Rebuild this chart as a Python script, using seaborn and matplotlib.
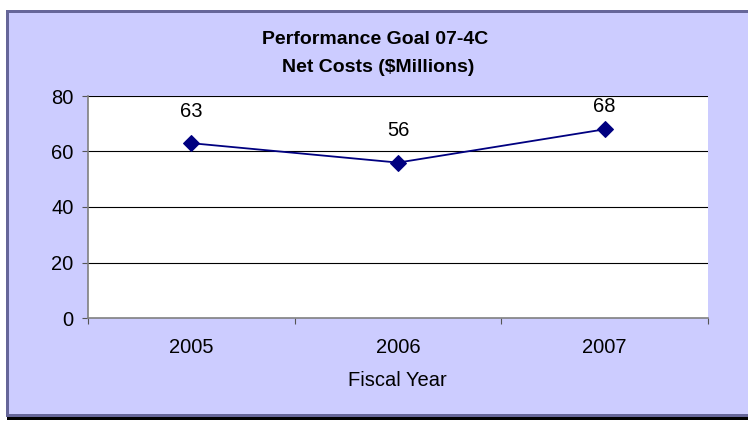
import matplotlib
matplotlib.use("Agg")
import matplotlib.pyplot as plt
from matplotlib.patches import Rectangle
import seaborn as sns
import pandas as pd

years = ["2005", "2006", "2007"]
net_costs = [63, 56, 68]
y_ticks = [0, 20, 40, 60, 80]

sns.set_theme(style="white")
plt.rcParams["font.family"] = ["Liberation Sans", "DejaVu Sans"]
plt.rcParams["text.color"] = "black"
plt.rcParams["xtick.color"] = "black"
plt.rcParams["ytick.color"] = "black"

FS = 14.5
W, H = 748, 422
fig = plt.figure(figsize=(W / 100, H / 100), dpi=100)
fig.patch.set_facecolor("white")

# Chart area panel with border and shadow
fig.patches.append(Rectangle((7 / W, 1 - 420 / H), 1.0, 410 / H, transform=fig.transFigure,
                             facecolor="black", edgecolor="none", zorder=-3))
fig.patches.append(Rectangle((6 / W, 1 - 417 / H), 1.0, 407 / H, transform=fig.transFigure,
                             facecolor="#666699", edgecolor="none", zorder=-2))
fig.patches.append(Rectangle((9 / W, 1 - 414 / H), 1.0, 401 / H, transform=fig.transFigure,
                             facecolor="#CCCCFF", edgecolor="none", zorder=-1))

left, right, top, bottom = 88, 708, 96, 318
ax = fig.add_axes([left / W, 1 - bottom / H, (right - left) / W, (bottom - top) / H])
ax.set_zorder(2)
ax.set_facecolor("white")

df = pd.DataFrame({"Fiscal Year": years, "Net Costs": net_costs})
x_pos = [0.5, 1.5, 2.5]
df["x"] = x_pos
sns.lineplot(data=df, x="x", y="Net Costs", ax=ax, color="#000080", linewidth=1.3,
             marker="D", markersize=8.5, markeredgecolor="#000080", zorder=3)

ax.set_xlim(0, 3)
ax.set_ylim(0, 80)

# Value labels sit above each point, kept inside the plot area
for xp, v in zip(x_pos, net_costs):
    label_y = min(v + 11.5, 76.2)
    ax.text(xp, label_y, f"{v}", ha="center", va="center", fontsize=FS, color="black")

ax.set_yticks(y_ticks)
ax.set_yticklabels([str(t) for t in y_ticks], fontsize=FS)
ax.set_xticks([0, 1, 2, 3])
ax.set_xticklabels([])
for xp, lab in zip(x_pos, years):
    ax.annotate(lab, (xp, 0), xycoords=ax.get_xaxis_transform(), xytext=(0, -21),
                textcoords="offset points", ha="center", va="center", fontsize=FS)
for t in y_ticks[1:]:
    ax.axhline(t, color="black", linewidth=0.8, zorder=1)

ax.tick_params(axis="both", which="both", length=4.3, width=0.8, color="#555555",
               direction="out", left=True, bottom=True)
ax.tick_params(axis="y", pad=6)
for side in ["top", "right"]:
    ax.spines[side].set_visible(False)
ax.spines["left"].set_color("#808080")
ax.spines["bottom"].set_color("#808080")
ax.spines["left"].set_linewidth(1.2)
ax.spines["bottom"].set_linewidth(1.2)

ax.set_xlabel("")
ax.set_ylabel("")
fig.text(397 / W, 1 - 381 / H, "Fiscal Year", ha="center", va="center", fontsize=FS)
fig.text(375 / W, 1 - 40 / H, "Performance Goal 07-4C", ha="center", va="center",
         fontsize=14, fontweight="bold")
fig.text(378 / W, 1 - 68 / H, "Net Costs ($Millions)", ha="center", va="center",
         fontsize=14, fontweight="bold")

fig.savefig("out.png", dpi=100)
